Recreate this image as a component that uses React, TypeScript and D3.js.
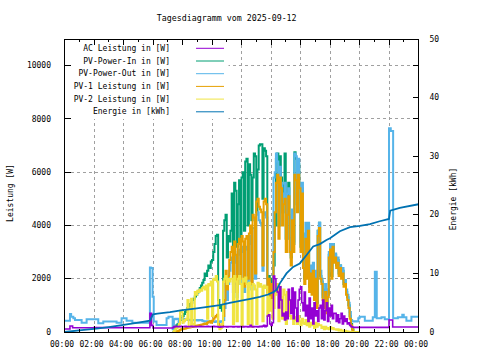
import React from "react";
import * as d3 from "d3";

// ---------- labels ----------
const chartTitle = "Tagesdiagramm vom 2025-09-12";
const hourLabels = ["00:00", "02:00", "04:00", "06:00", "08:00", "10:00", "12:00", "14:00", "16:00", "18:00", "20:00", "22:00", "00:00"];
const powerTicks = [0, 2000, 4000, 6000, 8000, 10000];
const energyTicks = [0, 10, 20, 30, 40, 50];
const seriesNames = ["AC Leistung in [W]", "PV-Power-In in [W]", "PV-Power-Out in [W]", "PV-1 Leistung in [W]", "PV-2 Leistung in [W]", "Energie in [kWh]"];
const seriesColors = ["#9400d3", "#009e73", "#56b4e9", "#e69f00", "#f0e442", "#0072b2"];

// ---------- data ----------
// daytime samples: every 5 minutes from 07:20 to 20:00
const dayStartHour = 7 + 20 / 60;
const dayStepHour = 5 / 60;

const pv1DayW = [
  0, 10, 20, 30, 40, 60, 80, 100, 110, 120, 130, 150,
  160, 170, 180, 190, 200, 210, 220, 230, 240, 250, 260, 270,
  280, 300, 320, 300, 350, 380, 400, 350, 420, 500, 550, 600,
  650, 300, 200, 200, 250, 600, 1200, 2300, 1600, 2100, 2700, 3000,
  3200, 1800, 3400, 2900, 1500, 3300, 3500, 2000, 3600, 3400, 1700, 3500,
  3600, 2000, 3700, 4000, 1800, 4400, 4300, 2200, 4900, 5000, 4700, 4600,
  4500, 2500, 4900, 5000, 4800, 1500, 2000, 1200, 1800, 1000, 3000, 4500,
  5600, 5900, 3500, 5800, 5400, 4000, 4800, 5000, 3000, 4400, 5100, 3000,
  2500, 4200, 3000, 5900, 5700, 4500, 5900, 5400, 3000, 5200, 2400, 1800,
  3500, 2000, 3800, 1500, 2200, 1400, 2300, 1200, 2000, 900, 3600, 3900,
  2000, 1800, 1200, 900, 1500, 700, 1300, 2800, 3100, 2000, 3200, 2600,
  2800, 2400, 2600, 2100, 2400, 2000, 2200, 1700, 1800, 1400, 1200, 900,
  500, 250, 80, 0, 0, 0, 0, 0, 0,
];

const pv2DayW = [
  0, 50, 100, 150, 200, 300, 800, 750, 350, 400, 450, 500,
  1200, 200, 200, 1250, 300, 300, 1500, 1400, 1550, 1500, 1600, 1550,
  1650, 1700, 1600, 1750, 500, 1800, 1750, 1900, 600, 2000, 1950, 2100,
  1900, 200, 100, 150, 300, 1900, 2000, 2100, 1800, 2000, 1900, 2000,
  2000, 300, 2100, 1900, 400, 2000, 2100, 1800, 250, 2000, 1900, 2050,
  1800, 300, 1850, 1700, 200, 1800, 1750, 1600, 300, 1850, 1700, 1800,
  1700, 400, 1750, 1650, 1700, 600, 1300, 800, 1200, 500, 900, 1400,
  1500, 1800, 400, 1700, 1300, 500, 1600, 1400, 300, 1500, 1200, 600,
  500, 600, 300, 550, 450, 300, 600, 400, 250, 500, 350, 300,
  450, 250, 400, 200, 350, 250, 300, 150, 350, 200, 300, 250,
  250, 150, 200, 100, 200, 120, 150, 100, 180, 120, 150, 100,
  100, 80, 100, 60, 80, 50, 60, 40, 50, 30, 20, 10,
  0, 0, 0, 0, 0, 0, 0, 0, 0,
];

const pvInDayW = [
  0, 80, 150, 250, 300, 380, 450, 520, 600, 680, 750, 830,
  900, 980, 1050, 1100, 1200, 1250, 1330, 1400, 1480, 1550, 1650, 1750,
  1850, 1950, 2200, 2100, 2300, 2500, 2400, 2650, 2700, 3000, 3300, 3600,
  3650, 1200, 900, 1000, 800, 3800, 4200, 4400, 2800, 3600, 3400, 3800,
  5200, 3000, 5600, 5300, 3200, 4800, 5700, 3500, 5800, 6000, 3800, 6400,
  6500, 4000, 6300, 5900, 4200, 5800, 6700, 6600, 4500, 6100, 7000, 7050,
  7050, 5000, 6900, 6800, 6600, 2000, 2100, 1500, 2000, 1300, 2500, 4000,
  6500, 6700, 4000, 6600, 5800, 4500, 5500, 6700, 3500, 5000, 5600, 3500,
  2800, 4400, 3300, 6750, 6500, 4800, 6300, 5500, 3200, 5400, 2600, 2000,
  3700, 2200, 4000, 1700, 2400, 1600, 2500, 1400, 2200, 1100, 3800, 4100,
  2100, 1900, 1300, 1000, 1600, 800, 1400, 2900, 3200, 2100, 3300, 2700,
  2900, 2500, 2700, 2200, 2500, 2100, 2300, 1800, 1900, 1500, 1300, 1000,
  600, 300, 100, 0, 0, 0, 0, 0, 0,
];

const pvOutDayW = [
  100, 480, 500, 480, 500, 300, 480, 500, 500, 480, 450, 450,
  450, 460, 450, 430, 450, 450, 440, 450, 430, 450, 440, 450,
  420, 400, 390, 400, 390, 380, 400, 390, 400, 390, 380, 400,
  400, 390, 380, 400, 390, 450, 900, 1800, 1200, 1800, 2300, 2600,
  2800, 1500, 3000, 2600, 1300, 2900, 3100, 1800, 3200, 3000, 1500, 3100,
  3200, 1800, 3300, 3600, 1600, 3900, 3900, 2000, 4400, 4500, 4200, 4100,
  4000, 2300, 4400, 4500, 4300, 1400, 1900, 1100, 1700, 900, 5800, 6000,
  6700, 6400, 4000, 6200, 5600, 4500, 5200, 5600, 3500, 5200, 5400, 3500,
  2900, 4600, 3400, 6700, 6600, 5000, 6500, 5600, 3400, 5600, 2800, 2200,
  4100, 2400, 4100, 1900, 2500, 1800, 2600, 1500, 2300, 1200, 3800, 4100,
  2300, 2000, 1400, 1100, 1800, 900, 1600, 3000, 3300, 2300, 3300, 2800,
  2950, 2600, 2800, 2300, 2500, 2200, 2400, 1900, 1950, 1600, 1400, 1100,
  750, 450, 400, 390, 400, 390, 400, 520, 550,
];

const acDayW = [
  170, 200, 210, 200, 200, 200, 210, 200, 200, 200, 210, 200,
  200, 200, 200, 210, 200, 200, 200, 200, 200, 200, 210, 200,
  200, 200, 200, 200, 210, 200, 200, 200, 200, 210, 200, 200,
  200, 190, 180, 200, 190, 200, 200, 200, 190, 200, 200, 200,
  200, 190, 200, 200, 200, 190, 200, 200, 200, 190, 200, 200,
  200, 190, 200, 250, 200, 190, 200, 200, 200, 190, 200, 210,
  200, 220, 250, 200, 230, 600, 650, 300, 250, 350, 2100, 2000,
  1600, 1500, 900, 1700, 1200, 600, 700, 450, 750, 500, 1600, 1200,
  700, 1650, 500, 1500, 900, 400, 1200, 1600, 1700, 1100, 800, 1500,
  600, 1000, 400, 1270, 500, 900, 300, 1100, 600, 800, 400, 900,
  1000, 500, 1200, 450, 800, 1100, 400, 900, 600, 1000, 500, 700,
  700, 400, 650, 350, 500, 700, 300, 600, 400, 500, 300, 350,
  250, 200, 190, 180, 175, 180, 175, 175, 175,
];

// night-time readings (hour of day, value)
const acAmHours = [0, 0.37, 0.55, 2.0, 4.0, 5.79, 5.9, 6.0];
const acAmW = [110, 225, 160, 165, 160, 700, 250, 150];
const acPmHours = [20.1, 22.0, 22.25, 24.0];
const acPmW = [175, 450, 190, 180];

const outAmHours = [0, 0.37, 0.45, 0.6, 0.71, 1.16, 1.5, 2.29, 2.63, 3.53, 3.87, 4.21, 4.6, 5.79, 5.85, 5.97, 6.05, 6.24, 6.92, 7.05];
const outAmW = [425, 675, 575, 513, 450, 350, 475, 330, 390, 350, 513, 425, 350, 2425, 2400, 1325, 390, 263, 513, 575];
const outPmHours = [20.02, 20.36, 20.9, 21.04, 21.17, 21.49, 21.71, 22.0, 22.12, 22.28, 22.6, 22.9, 23.0, 23.18, 23.52, 24.0];
const outPmW = [575, 425, 550, 2260, 513, 550, 475, 7650, 7550, 513, 550, 650, 550, 425, 575, 575];

const energyHours = [0, 1, 2, 3, 4, 5, 5.8, 6.0, 6.3, 7.15, 8.0, 8.84, 9.7, 10.53, 11.2, 11.9, 12.6, 13.24, 13.8, 14.15, 14.38, 14.6, 15.05, 15.5, 15.95, 16.4, 16.86, 17.31, 17.76, 18.0, 18.67, 19.35, 20.03, 20.71, 21.37, 22.0, 22.08, 22.73, 24];
const energyKWh = [0, 0.27, 0.55, 0.85, 1.2, 1.6, 1.95, 3.0, 3.15, 3.4, 3.75, 4.0, 4.3, 4.6, 4.95, 5.3, 5.65, 6.0, 6.4, 6.8, 7.2, 8.3, 10.0, 11.1, 11.7, 13.1, 14.6, 15.0, 15.7, 16.0, 17.2, 17.9, 18.1, 18.4, 18.9, 19.3, 20.7, 21.2, 21.8];

type Pt = [number, number];
const zip = (hs: number[], vs: number[]): Pt[] => hs.map((h, i) => [h, vs[i]] as Pt);
const dayPts = (vs: number[]): Pt[] => vs.map((v, i) => [dayStartHour + i * dayStepHour, v] as Pt);

const FONT = "'DejaVu Sans Mono', monospace";

export default function App() {
  const W = 480, H = 360;
  const L = 64.5, R = 418.5, T = 39, B = 332;
  const x = d3.scaleLinear().domain([0, 24]).range([L, R]);
  const y = d3.scaleLinear().domain([0, 11000]).range([B, T]);
  const y2 = d3.scaleLinear().domain([0, 50]).range([B, T]);

  const stepLine = d3.line<Pt>().x((d) => x(d[0])).y((d) => y(d[1])).curve(d3.curveStepAfter);
  const energyLine = d3.line<Pt>().x((d) => x(d[0])).y((d) => y2(d[1]));

  const ac = [...zip(acAmHours, acAmW), ...dayPts(acDayW), ...zip(acPmHours, acPmW)];
  const pvIn = dayPts(pvInDayW);
  const pvOut = [...zip(outAmHours, outAmW), ...dayPts(pvOutDayW), ...zip(outPmHours, outPmW)];
  const pv1 = dayPts(pv1DayW);
  const pv2 = dayPts(pv2DayW);
  const energy = zip(energyHours, energyKWh);

  const drawOrder: { pts: Pt[]; color: string; w: number }[] = [
    { pts: pvIn, color: seriesColors[1], w: 2 },
    { pts: pvOut, color: seriesColors[2], w: 2 },
    { pts: pv1, color: seriesColors[3], w: 2 },
    { pts: pv2, color: seriesColors[4], w: 2 },
    { pts: ac, color: seriesColors[0], w: 1.6 },
  ];

  const hourTicks = d3.range(0, 25, 1);
  const gridHours = d3.range(2, 24, 2);
  const legendX = 170, legendY0 = 48.3, legendDy = 12.7;

  return (
    <svg width={W} height={H} style={{ position: "absolute", left: 0, top: 0, background: "#fff" }} fontFamily={FONT}>
      <rect x={0} y={0} width={W} height={H} fill="#fff" />
      <defs>
        <clipPath id="plot">
          <rect x={L} y={T} width={R - L} height={B - T} />
        </clipPath>
      </defs>
      {/* grid */}
      <g stroke="#a0a0a0" strokeWidth={1} strokeDasharray="3,3" shapeRendering="crispEdges">
        {gridHours.map((h) => (
          <line key={"gx" + h} x1={x(h)} x2={x(h)} y1={T} y2={B} />
        ))}
        {powerTicks.filter((v) => v > 0).map((v) => (
          <line key={"gy" + v} x1={L} x2={R} y1={y(v)} y2={y(v)} />
        ))}
      </g>
      {/* opaque key area */}
      <rect x={L + 1} y={T + 1} width={163} height={79} fill="#fff" />
      {/* data */}
      <g clipPath="url(#plot)" fill="none">
        {drawOrder.map((s, i) => (
          <path key={i} d={stepLine(s.pts) || ""} stroke={s.color} strokeWidth={s.w} />
        ))}
        <path d={energyLine(energy) || ""} stroke={seriesColors[5]} strokeWidth={1.8} />
      </g>
      {/* border & ticks */}
      <g stroke="#000" strokeWidth={1} shapeRendering="crispEdges">
        <rect x={L} y={T} width={R - L} height={B - T} fill="none" />
        {powerTicks.map((v) => (
          <g key={"pt" + v}>
            <line x1={L} x2={L + 6} y1={y(v)} y2={y(v)} />
            <line x1={R - 6} x2={R} y1={y(v)} y2={y(v)} />
          </g>
        ))}
        {energyTicks.map((v) => (
          <line key={"et" + v} x1={R - 6} x2={R} y1={y2(v)} y2={y2(v)} />
        ))}
        {hourTicks.map((h) => {
          const len = h % 2 === 0 ? 6 : 3;
          return (
            <g key={"ht" + h}>
              <line x1={x(h)} x2={x(h)} y1={B} y2={B - len} />
              <line x1={x(h)} x2={x(h)} y1={T} y2={T + len} />
            </g>
          );
        })}
      </g>
      {/* tick labels */}
      <g fontSize={8} fill="#000">
        {powerTicks.map((v) => (
          <text key={"pl" + v} x={51} y={y(v)} dy="0.33em" textAnchor="end">{v}</text>
        ))}
        {energyTicks.map((v) => (
          <text key={"el" + v} x={429.5} y={y2(v)} dy="0.33em" textAnchor="start">{v}</text>
        ))}
        {hourLabels.map((lab, i) => (
          <text key={"hl" + i} x={x(i * 2) - 2.5} y={347} textAnchor="middle">{lab}</text>
        ))}
        <text x={226.7} y={20.5} textAnchor="middle" fontSize={8.3}>{chartTitle}</text>
        <text transform={`translate(12.5,193) rotate(-90)`} textAnchor="middle">Leistung [W]</text>
        <text transform={`translate(455.5,199) rotate(-90)`} textAnchor="middle">Energie [kWh]</text>
      </g>
      {/* legend */}
      <g fontSize={8}>
        {seriesNames.map((name, i) => (
          <g key={"lg" + i}>
            <text x={legendX} y={legendY0 + i * legendDy} dy="0.33em" textAnchor="end" fill="#000">{name}</text>
            <line x1={196} x2={224} y1={legendY0 + i * legendDy} y2={legendY0 + i * legendDy} stroke={seriesColors[i]} strokeWidth={1} />
          </g>
        ))}
      </g>
    </svg>
  );
}
